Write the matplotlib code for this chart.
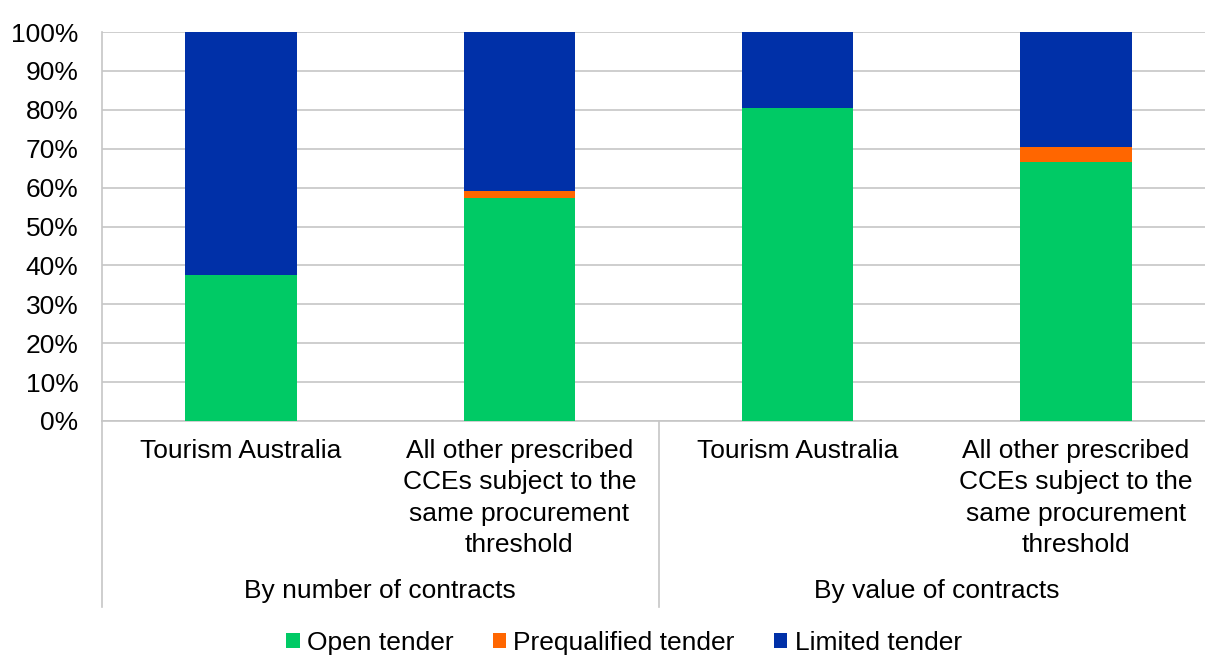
import matplotlib
matplotlib.use("Agg")
import matplotlib.pyplot as plt
import matplotlib.transforms as mtransforms
from matplotlib.patches import Patch

plt.rcParams['font.family'] = ['Liberation Sans', 'DejaVu Sans']

categories = ["Tourism Australia",
              "All other prescribed\nCCEs subject to the\nsame procurement\nthreshold",
              "Tourism Australia",
              "All other prescribed\nCCEs subject to the\nsame procurement\nthreshold"]
groups = ["By number of contracts", "By value of contracts"]
series_names = ["Open tender", "Prequalified tender", "Limited tender"]
open_tender = [37.6, 57.4, 80.4, 66.5]
prequalified = [0.0, 1.75, 0.0, 3.9]
limited = [62.4, 40.85, 19.6, 29.6]
yticks = [0, 10, 20, 30, 40, 50, 60, 70, 80, 90, 100]
ytick_labels = [f"{v}%" for v in yticks]

colors = ["#00CA65", "#FF6600", "#0030A8"]
W, H = 1205, 655
FS = 19

fig = plt.figure(figsize=(W / 100, H / 100), dpi=100)
ax = fig.add_axes([102 / W, 1 - 421 / H, (1215 - 102) / W, (421 - 32) / H])

x = list(range(len(categories)))
bottom = [0.0] * len(x)
for vals, col, name in zip([open_tender, prequalified, limited], colors, series_names):
    ax.bar(x, vals, width=0.4, bottom=bottom, color=col, label=name, zorder=3)
    bottom = [b + v for b, v in zip(bottom, vals)]

ax.set_xlim(-0.5, len(x) - 0.5)
ax.set_ylim(0, 100)
ax.set_yticks(yticks)
ax.set_yticklabels(ytick_labels, fontsize=FS)
ax.tick_params(axis='y', length=0, pad=17)
ax.set_xticks([])
ax.yaxis.grid(True, color='#C6C6C6', linewidth=1.2, zorder=0)
for s in ['top', 'right']:
    ax.spines[s].set_visible(False)
ax.spines['left'].set_color('#C6C6C6')
ax.spines['bottom'].set_color('#C6C6C6')
ax.spines['left'].set_linewidth(1.2)
ax.spines['bottom'].set_linewidth(1.2)

# category labels below the axis
px_per_axes = 421 - 32
trans = mtransforms.blended_transform_factory(ax.transData, ax.transAxes)
for xi, lab in zip(x, categories):
    for li, line in enumerate(lab.split("\n")):
        ycen = 451 + li * 31.3
        ax.text(xi, (421 - ycen) / px_per_axes, line, transform=trans,
                ha='center', va='center', fontsize=FS, clip_on=False)

# group labels
for gi, g in enumerate(groups):
    xc = gi * 2 + 0.5
    ax.text(xc, (421 - 591) / px_per_axes, g, transform=trans,
            ha='center', va='center', fontsize=FS, clip_on=False)

# group separators
for xs in [-0.5, 1.5, 3.5]:
    ax.plot([xs, xs], [0, (421 - 607) / px_per_axes], transform=trans,
            color='#C6C6C6', linewidth=1.2, clip_on=False)

handles = [Patch(facecolor=c, edgecolor='none', label=n) for c, n in zip(colors, series_names)]
fig.legend(handles=handles, loc='center', bbox_to_anchor=(624 / W, 1 - 643 / H),
           ncol=3, frameon=False, fontsize=FS, handlelength=0.5, handleheight=0.5,
           handletextpad=0.27, columnspacing=1.5, borderpad=0, borderaxespad=0)

fig.savefig("out.png", dpi=100)
